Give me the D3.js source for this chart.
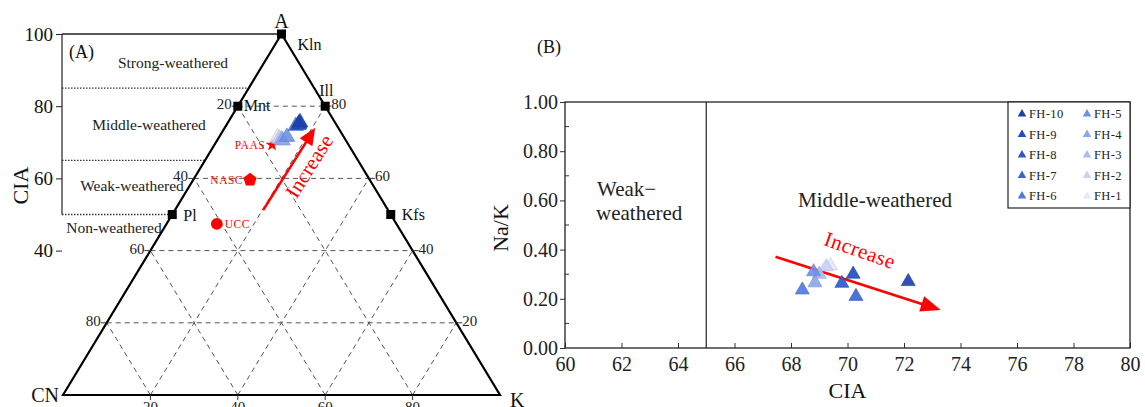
<!DOCTYPE html>
<html>
<head>
<meta charset="utf-8">
<script src="https://cdn.jsdelivr.net/npm/d3@7/dist/d3.min.js"></script>
<style>
  body { margin: 0; background: #fff; }
  svg { display: block; }
  text { font-family: "Liberation Serif", "Times New Roman", serif; }
</style>
</head>
<body>
<svg id="chart" width="1145" height="407"></svg>
<script>
// ---- Samples ----
const samples = ["FH-1", "FH-2", "FH-3", "FH-4", "FH-5", "FH-6", "FH-7", "FH-8", "FH-9", "FH-10"];
const sampleColors = ["#e4eafb", "#c7d3f6", "#aabdf1", "#8da7ec", "#6d8fe6", "#5179df", "#3b67d7", "#2d59ce", "#234dc1", "#1c41ae"];

// Panel A: A–CN–K molar proportions (%)
const ternA  = [71.4, 71.0, 70.8, 70.5, 71.5, 74.5, 75.3, 74.8, 75.0, 75.5];
const ternCN = [15.2, 15.0, 14.6, 14.5, 13.0,  9.5,  8.3,  8.8,  8.5,  8.0];
const ternK  = [13.4, 14.0, 14.6, 15.0, 15.5, 16.0, 16.4, 16.4, 16.5, 16.5];

// Reference compositions
const refNames = ["PAAS", "NASC", "UCC"];
const refA  = [69.3, 59.6, 47.4];
const refCN = [17.5, 27.4, 41.1];
const refK  = [13.2, 13.0, 11.5];

// Ideal minerals
const mineralNames = ["Kln", "Ill", "Mnt", "Kfs", "Pl"];
const mineralA  = [100, 80, 80, 50, 50];
const mineralCN = [0, 0, 20, 0, 50];
const mineralK  = [0, 20, 0, 50, 0];

const ternTicks = [20, 40, 60, 80];
const ciaTicksA = [40, 60, 80, 100];
const weatheringBounds = [85, 65, 50];
const zoneNamesA = ["Strong-weathered", "Middle-weathered", "Weak-weathered", "Non-weathered"];
const zoneCIA = [92, 75, 58, 46.5];

// Panel B: CIA vs Na/K
const cia = [69.4, 69.25, 69.0, 68.85, 68.8, 68.4, 70.3, 69.8, 70.2, 72.15];
const naK = [0.335, 0.33, 0.30, 0.265, 0.31, 0.236, 0.21, 0.263, 0.30, 0.27];
const ciaTicksB = [60, 62, 64, 66, 68, 70, 72, 74, 76, 78, 80];
const naKTicks = [0, 0.2, 0.4, 0.6, 0.8, 1.0];
const naKMinor = [0.1, 0.3, 0.5, 0.7, 0.9];
const zoneBoundB = 65;

// Trend arrows
const trendA = { from: [51.2, 28.6, 20.2], to: [74.0, 5.3, 20.7] };
const trendB = { from: [67.45, 0.371], to: [73.3, 0.154] };

const svg = d3.select("#chart");
const red = "#ff0000";

// ================= Panel A: ternary diagram =================
const baseX = d3.scaleLinear().domain([0, 100]).range([63, 500]);
const ciaY = d3.scaleLinear().domain([0, 100]).range([395, 34]);
function tern(a, cn, k) {
  const s = a + cn + k;
  const pa = a / s * 100, pk = k / s * 100;
  return [baseX(pk + pa / 2), ciaY(pa)];
}

const gA = svg.append("g");

// dashed ternary grid
const grid = [];
ternTicks.forEach(v => {
  grid.push([tern(v, 100 - v, 0), tern(v, 0, 100 - v)]);   // constant A
  grid.push([tern(0, 100 - v, v), tern(100 - v, 0, v)]);   // constant K
  grid.push([tern(0, v, 100 - v), tern(100 - v, v, 0)]);   // constant CN
});
gA.selectAll("line.grid").data(grid).join("line")
  .attr("x1", d => d[0][0]).attr("y1", d => d[0][1])
  .attr("x2", d => d[1][0]).attr("y2", d => d[1][1])
  .attr("stroke", "#555").attr("stroke-width", 1).attr("stroke-dasharray", "5,4");

// weathering boundaries (dotted) from CIA axis to the A–CN edge
const axisX = 62;
gA.selectAll("line.bound").data(weatheringBounds).join("line")
  .attr("x1", axisX).attr("x2", d => tern(d, 100 - d, 0)[0])
  .attr("y1", d => ciaY(d)).attr("y2", d => ciaY(d))
  .attr("stroke", "#333").attr("stroke-width", 1.3).attr("stroke-dasharray", "1.5,1.5");

// CIA axis
const ciaAxis = gA.append("g").attr("transform", `translate(${axisX},0)`)
  .call(d3.axisLeft(ciaY).tickValues(ciaTicksA).tickSize(6).tickPadding(3));
ciaAxis.select(".domain").remove();
ciaAxis.selectAll("text").attr("font-size", 19).attr("font-family", "Liberation Serif").attr("fill", "#111");
ciaAxis.selectAll("line").attr("stroke", "#222");
gA.append("line").attr("x1", axisX).attr("x2", axisX)
  .attr("y1", ciaY(100)).attr("y2", ciaY(50)).attr("stroke", "#222").attr("stroke-width", 1.2);
gA.append("line").attr("x1", axisX).attr("x2", tern(100, 0, 0)[0])
  .attr("y1", ciaY(100)).attr("y2", ciaY(100)).attr("stroke", "#222").attr("stroke-width", 1.4);
gA.append("text").attr("transform", `translate(28,${ciaY(58)}) rotate(-90)`)
  .attr("text-anchor", "middle").attr("font-size", 22).attr("fill", "#111").text("CIA");

// zone names
const zoneX = [173, 149, 132, 114];
gA.selectAll("text.zone").data(zoneNamesA).join("text")
  .attr("x", (d, i) => zoneX[i]).attr("y", (d, i) => ciaY(zoneCIA[i]))
  .attr("dy", "0.35em").attr("text-anchor", "middle")
  .attr("font-size", 15.5).attr("fill", "#222").text(d => d);

gA.append("text").attr("x", 69).attr("y", 58).attr("font-size", 18).attr("fill", "#111").text("(A)");

// triangle outline
const vA = tern(100, 0, 0), vCN = tern(0, 100, 0), vK = tern(0, 0, 100);
gA.append("path").attr("d", d3.line()([vCN, vA, vK, vCN]) + "Z")
  .attr("fill", "none").attr("stroke", "#000").attr("stroke-width", 2.2).attr("stroke-linejoin", "miter");

// edge tick labels
ternTicks.forEach(v => {
  const pl = tern(100 - v, v, 0);
  gA.append("line").attr("x1", pl[0] - 6).attr("x2", pl[0]).attr("y1", pl[1]).attr("y2", pl[1]).attr("stroke", "#333");
  gA.append("text").attr("x", pl[0] - 6).attr("y", pl[1]).attr("dy", "0.2em")
    .attr("text-anchor", "end").attr("font-size", 15).attr("fill", "#222").text(v);
  const pr = tern(v, 0, 100 - v);
  gA.append("line").attr("x1", pr[0]).attr("x2", pr[0] + 6).attr("y1", pr[1]).attr("y2", pr[1]).attr("stroke", "#333");
  gA.append("text").attr("x", pr[0] + 6).attr("y", pr[1]).attr("dy", "0.2em")
    .attr("text-anchor", "start").attr("font-size", 15).attr("fill", "#222").text(v);
  const pb = tern(0, 100 - v, v);
  gA.append("line").attr("x1", pb[0]).attr("x2", pb[0]).attr("y1", pb[1]).attr("y2", pb[1] + 5).attr("stroke", "#333");
  gA.append("text").attr("x", pb[0]).attr("y", pb[1] + 17)
    .attr("text-anchor", "middle").attr("font-size", 15).attr("fill", "#222").text(v);
});

// vertex labels
gA.append("text").attr("x", vA[0]).attr("y", vA[1] - 6).attr("text-anchor", "middle").attr("font-size", 20).attr("fill", "#111").text("A");
gA.append("text").attr("x", vCN[0] - 4).attr("y", vCN[1] + 7).attr("text-anchor", "end").attr("font-size", 20).attr("fill", "#111").text("CN");
gA.append("text").attr("x", vK[0] + 10).attr("y", vK[1] + 12).attr("text-anchor", "start").attr("font-size", 20).attr("fill", "#111").text("K");

// minerals
const mineralLabelOffset = { Kln: [16, 16], Ill: [-6, -10], Mnt: [6, 5], Kfs: [11, 5], Pl: [11, 6] };
mineralNames.forEach((m, i) => {
  const p = tern(mineralA[i], mineralCN[i], mineralK[i]);
  gA.append("rect").attr("x", p[0] - 4.5).attr("y", p[1] - 4.5).attr("width", 9).attr("height", 9).attr("fill", "#000");
  const o = mineralLabelOffset[m];
  gA.append("text").attr("x", p[0] + o[0]).attr("y", p[1] + o[1]).attr("font-size", 16).attr("fill", "#111").text(m);
});

// reference compositions
const refSymbols = [d3.symbolStar, null, d3.symbolCircle];
refNames.forEach((r, i) => {
  const p = tern(refA[i], refCN[i], refK[i]);
  if (r === "NASC") {
    const pent = d3.range(5).map(j => {
      const ang = -Math.PI / 2 + j * 2 * Math.PI / 5;
      return [p[0] + 7 * Math.cos(ang), p[1] + 7 * Math.sin(ang)];
    });
    gA.append("path").attr("d", d3.line()(pent) + "Z").attr("fill", red);
  } else {
    gA.append("path").attr("transform", `translate(${p[0]},${p[1]})`)
      .attr("d", d3.symbol(refSymbols[i], r === "UCC" ? 110 : 55)()).attr("fill", red);
  }
  const left = r !== "UCC";
  gA.append("text").attr("x", left ? p[0] - 7 : p[0] + 8).attr("y", p[1] + 4)
    .attr("text-anchor", left ? "end" : "start").attr("font-size", 11.5)
    .attr("letter-spacing", 0.5).attr("fill", red).text(r);
});

// samples in ternary space
samples.forEach((s, i) => {
  const p = tern(ternA[i], ternCN[i], ternK[i]);
  gA.append("path").attr("transform", `translate(${p[0]},${p[1]})`)
    .attr("d", d3.symbol(d3.symbolTriangle, 105)())
    .attr("fill", sampleColors[i]).attr("fill-opacity", 0.9)
    .attr("stroke", d3.color(sampleColors[i]).darker(0.4)).attr("stroke-width", 0.6);
});

// arrowed trend line
function drawArrow(g, p0, p1, headLen, headHalf, width) {
  const dx = p1[0] - p0[0], dy = p1[1] - p0[1];
  const L = Math.hypot(dx, dy), ux = dx / L, uy = dy / L;
  const bx = p1[0] - ux * headLen, by = p1[1] - uy * headLen;
  g.append("line").attr("x1", p0[0]).attr("y1", p0[1]).attr("x2", bx + ux).attr("y2", by + uy)
    .attr("stroke", red).attr("stroke-width", width);
  g.append("path").attr("d", d3.line()([p1, [bx - uy * headHalf, by + ux * headHalf], [bx + uy * headHalf, by - ux * headHalf]]) + "Z")
    .attr("fill", red);
}
const ta0 = tern(...trendA.from), ta1 = tern(...trendA.to);
drawArrow(gA, ta0, ta1, 17, 7.5, 2.6);
const angA = Math.atan2(ta1[1] - ta0[1], ta1[0] - ta0[0]) * 180 / Math.PI;
gA.append("text").attr("transform", `translate(309,166) rotate(${angA})`)
  .attr("text-anchor", "middle").attr("dy", "0.35em").attr("font-size", 21).attr("fill", red).text("Increase");

// ================= Panel B: CIA vs Na/K =================
const xB = d3.scaleLinear().domain([60, 80]).range([565, 1130]);
const yB = d3.scaleLinear().domain([0, 1]).range([348, 102]);
const gB = svg.append("g");

gB.append("text").attr("x", 537).attr("y", 53).attr("font-size", 18).attr("fill", "#111").text("(B)");

const xAxis = gB.append("g").attr("transform", `translate(0,${yB(0)})`)
  .call(d3.axisBottom(xB).tickValues(ciaTicksB).tickSizeInner(-5).tickSizeOuter(0).tickPadding(9).tickFormat(d3.format("d")));
xAxis.select(".domain").remove();
xAxis.selectAll("text").attr("font-size", 20).attr("font-family", "Liberation Serif").attr("fill", "#222");
xAxis.selectAll("line").attr("stroke", "#333");

const yAxis = gB.append("g").attr("transform", `translate(${xB(60)},0)`)
  .call(d3.axisLeft(yB).tickValues(naKTicks).tickSizeInner(5).tickSizeOuter(0).tickPadding(2).tickFormat(d3.format(".2f")));
yAxis.select(".domain").remove();
yAxis.selectAll("text").attr("font-size", 20).attr("font-family", "Liberation Serif").attr("fill", "#222");
yAxis.selectAll("line").attr("stroke", "#333");
gB.selectAll("line.minor").data(naKMinor).join("line")
  .attr("x1", xB(60)).attr("x2", xB(60) + 4).attr("y1", d => yB(d)).attr("y2", d => yB(d)).attr("stroke", "#333");

// frame and zone divider
gB.append("rect").attr("x", xB(60)).attr("y", yB(1)).attr("width", xB(80) - xB(60)).attr("height", yB(0) - yB(1))
  .attr("fill", "none").attr("stroke", "#222").attr("stroke-width", 1.3);
gB.append("line").attr("x1", xB(zoneBoundB)).attr("x2", xB(zoneBoundB)).attr("y1", yB(1)).attr("y2", yB(0))
  .attr("stroke", "#222").attr("stroke-width", 1.2);

gB.append("text").attr("x", 597).attr("y", 196).attr("font-size", 21).attr("fill", "#222").text("Weak\u2212");
gB.append("text").attr("x", 596).attr("y", 220).attr("font-size", 21).attr("fill", "#222").text("weathered");
gB.append("text").attr("x", 875).attr("y", 207).attr("text-anchor", "middle").attr("font-size", 21).attr("fill", "#222").text("Middle-weathered");

gB.append("text").attr("x", (xB(60) + xB(80)) / 2).attr("y", 398).attr("text-anchor", "middle").attr("font-size", 22).attr("fill", "#111").text("CIA");
gB.append("text").attr("transform", `translate(508,228) rotate(-90)`).attr("text-anchor", "middle")
  .attr("font-size", 22).attr("fill", "#111").text("Na/K");

// trend arrow
const tb0 = [xB(trendB.from[0]), yB(trendB.from[1])], tb1 = [xB(trendB.to[0]), yB(trendB.to[1])];
drawArrow(gB, tb0, tb1, 20, 8, 2.8);
const angB = Math.atan2(tb1[1] - tb0[1], tb1[0] - tb0[0]) * 180 / Math.PI;
gB.append("text").attr("transform", `translate(860,250) rotate(${angB + 1.5})`).attr("text-anchor", "middle")
  .attr("dy", "0.35em").attr("font-size", 21).attr("letter-spacing", 0.5).attr("fill", red).text("Increase");

// samples
samples.forEach((s, i) => {
  gB.append("path").attr("transform", `translate(${xB(cia[i])},${yB(naK[i])})`)
    .attr("d", d3.symbol(d3.symbolTriangle, 85)())
    .attr("fill", sampleColors[i]).attr("fill-opacity", 0.92)
    .attr("stroke", d3.color(sampleColors[i]).darker(0.4)).attr("stroke-width", 0.6);
});

// legend
const lg = gB.append("g");
lg.append("rect").attr("x", 1008).attr("y", yB(1)).attr("width", xB(80) - 1008).attr("height", 106)
  .attr("fill", "#fff").attr("stroke", "#222").attr("stroke-width", 1.2);
const legendOrder = d3.range(samples.length).reverse();
legendOrder.forEach((idx, j) => {
  const col = Math.floor(j / 5), row = j % 5;
  const mx = col === 0 ? 1022 : 1087, my = 114 + row * 20.5;
  lg.append("path").attr("transform", `translate(${mx},${my})`)
    .attr("d", d3.symbol(d3.symbolTriangle, 32)()).attr("fill", sampleColors[idx]);
  lg.append("text").attr("x", mx + 7).attr("y", my).attr("dy", "0.35em")
    .attr("font-size", 12.5).attr("letter-spacing", 0.4).attr("fill", "#222").text(samples[idx]);
});
</script>
</body>
</html>
